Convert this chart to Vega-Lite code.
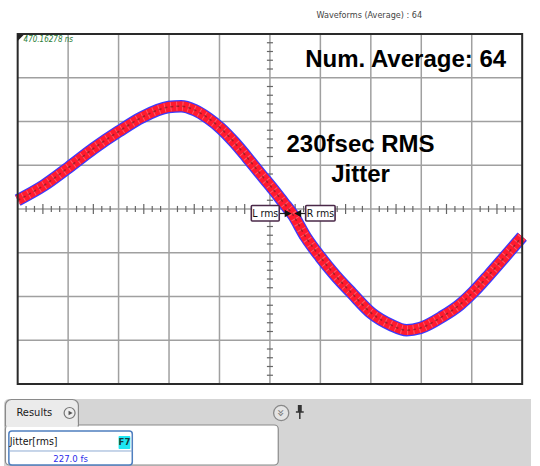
{
  "$schema": "https://vega.github.io/schema/vega-lite/v6.json",
  "width": 540,
  "height": 466,
  "padding": 0,
  "autosize": {"type": "fit", "contains": "padding"},
  "background": "white",
  "config": {"view": {"stroke": null}, "font": "Liberation Sans"},
  "datasets": {
    "wave": [
      {"t": 0.0, "v": 0.2}, {"t": 0.52, "v": 0.54}, {"t": 1.01, "v": 0.95}, {"t": 1.5, "v": 1.38},
      {"t": 2.0, "v": 1.77}, {"t": 2.47, "v": 2.1}, {"t": 2.99, "v": 2.33}, {"t": 3.24, "v": 2.35},
      {"t": 3.51, "v": 2.26}, {"t": 3.77, "v": 2.08}, {"t": 4.02, "v": 1.85}, {"t": 4.29, "v": 1.53},
      {"t": 4.54, "v": 1.19}, {"t": 4.8, "v": 0.82}, {"t": 5.03, "v": 0.5}, {"t": 5.26, "v": 0.16},
      {"t": 5.46, "v": -0.14}, {"t": 5.71, "v": -0.64}, {"t": 6.0, "v": -1.1}, {"t": 6.29, "v": -1.51},
      {"t": 6.62, "v": -1.92}, {"t": 7.01, "v": -2.38}, {"t": 7.4, "v": -2.65}, {"t": 7.71, "v": -2.77},
      {"t": 7.98, "v": -2.72}, {"t": 8.43, "v": -2.45}, {"t": 8.76, "v": -2.19}, {"t": 9.03, "v": -1.9},
      {"t": 9.34, "v": -1.51}, {"t": 9.65, "v": -1.1}, {"t": 10.0, "v": -0.63}
    ],
    "grid": [
      {"x1": 1, "x2": 1, "y1": -4, "y2": 4}, {"x1": 2, "x2": 2, "y1": -4, "y2": 4},
      {"x1": 3, "x2": 3, "y1": -4, "y2": 4}, {"x1": 4, "x2": 4, "y1": -4, "y2": 4},
      {"x1": 5, "x2": 5, "y1": -4, "y2": 4}, {"x1": 6, "x2": 6, "y1": -4, "y2": 4},
      {"x1": 7, "x2": 7, "y1": -4, "y2": 4}, {"x1": 8, "x2": 8, "y1": -4, "y2": 4},
      {"x1": 9, "x2": 9, "y1": -4, "y2": 4},
      {"x1": 0, "x2": 10, "y1": -3, "y2": -3}, {"x1": 0, "x2": 10, "y1": -2, "y2": -2},
      {"x1": 0, "x2": 10, "y1": -1, "y2": -1}, {"x1": 0, "x2": 10, "y1": 0, "y2": 0},
      {"x1": 0, "x2": 10, "y1": 1, "y2": 1}, {"x1": 0, "x2": 10, "y1": 2, "y2": 2},
      {"x1": 0, "x2": 10, "y1": 3, "y2": 3}
    ],
    "hticks": [
      {"t": 0.167}, {"t": 0.333}, {"t": 0.667}, {"t": 0.833}, {"t": 1.167}, {"t": 1.333}, {"t": 1.667}, {"t": 1.833},
      {"t": 2.167}, {"t": 2.333}, {"t": 2.667}, {"t": 2.833}, {"t": 3.167}, {"t": 3.333}, {"t": 3.667}, {"t": 3.833},
      {"t": 4.167}, {"t": 4.333}, {"t": 4.667}, {"t": 4.833}, {"t": 5.167}, {"t": 5.333}, {"t": 5.667}, {"t": 5.833},
      {"t": 6.167}, {"t": 6.333}, {"t": 6.667}, {"t": 6.833}, {"t": 7.167}, {"t": 7.333}, {"t": 7.667}, {"t": 7.833},
      {"t": 8.167}, {"t": 8.333}, {"t": 8.667}, {"t": 8.833}, {"t": 9.167}, {"t": 9.333}, {"t": 9.667}, {"t": 9.833}
    ],
    "hmid": [
      {"t": 0.5}, {"t": 1.5}, {"t": 2.5}, {"t": 3.5}, {"t": 4.5}, {"t": 5.5}, {"t": 6.5}, {"t": 7.5}, {"t": 8.5}, {"t": 9.5}
    ],
    "vticks": [
      {"v": -3.8}, {"v": -3.6}, {"v": -3.4}, {"v": -3.2}, {"v": -2.8}, {"v": -2.6}, {"v": -2.4}, {"v": -2.2},
      {"v": -1.8}, {"v": -1.6}, {"v": -1.4}, {"v": -1.2}, {"v": -0.8}, {"v": -0.6}, {"v": -0.4}, {"v": -0.2},
      {"v": 0.2}, {"v": 0.4}, {"v": 0.6}, {"v": 0.8}, {"v": 1.2}, {"v": 1.4}, {"v": 1.6}, {"v": 1.8},
      {"v": 2.2}, {"v": 2.4}, {"v": 2.6}, {"v": 2.8}, {"v": 3.2}, {"v": 3.4}, {"v": 3.6}, {"v": 3.8}
    ],
    "frame": [{"x1": 0, "x2": 10, "y1": -4, "y2": 4}],
    "bg": [{"x1": -0.2718, "x2": 10.1748, "y1": -4.3429, "y2": -5.8743}],
    "content": [{"x1": -0.2427, "x2": 5.165, "y1": -4.9371, "y2": -5.8514}],
    "tab": [{"x1": -0.2427, "x2": 1.2039, "y1": -4.3543, "y2": -4.96}],
    "strip": [{"x1": -0.2233, "x2": 1.1845, "y1": -4.88, "y2": -4.985}],
    "jbox": [{"x1": -0.1748, "x2": 2.2718, "y1": -5.0743, "y2": -5.8514}],
    "badge": [{"x1": 2.0, "x2": 2.233, "y1": -5.1886, "y2": -5.4857}],
    "pinhead": [{"x1": 5.5534, "x2": 5.6311, "y1": -4.48, "y2": -4.64}],
    "segs": [
      {"x1": -0.1748, "x2": 2.2718, "y1": -5.5314, "y2": -5.5314}
    ],
    "pinsegs": [
      {"x1": 5.5146, "x2": 5.6699, "y1": -4.64, "y2": -4.64},
      {"x1": 5.5922, "x2": 5.5922, "y1": -4.64, "y2": -4.8}
    ],
    "lr": [
      {"x1": 4.631, "x2": 5.1845, "y1": 0.08, "y2": -0.2743, "xc": 4.9068, "yc": -0.1029, "label": "L rms"},
      {"x1": 5.7087, "x2": 6.2913, "y1": 0.08, "y2": -0.2743, "xc": 6.0, "yc": -0.1029, "label": "R rms"}
    ],
    "conn": [
      {"x1": 5.1845, "x2": 5.32, "y1": -0.1029, "y2": -0.1029},
      {"x1": 5.59, "x2": 5.7087, "y1": -0.1029, "y2": -0.1029}
    ],
    "arrR": [{"x": 5.3592, "y": -0.1029}],
    "arrL": [{"x": 5.5534, "y": -0.1029}],
    "corner": [{"x": 0.0583, "y": 3.9086}],
    "timestamp": [{"x": 0.1165, "y": 3.8629, "text": "470.16278 ns"}],
    "header": [{"x": 6.9709, "y": 4.4343, "text": "Waveforms (Average) : 64"}],
    "big": [
      {"x": 7.69, "y": 3.4057, "text": "Num. Average: 64"},
      {"x": 6.796, "y": 1.4629, "text": "230fsec RMS"},
      {"x": 6.796, "y": 0.7771, "text": "Jitter"}
    ],
    "results": [{"x": 0.3301, "y": -4.6629, "text": "Results"}],
    "jlabel": [{"x": -0.1553, "y": -5.3257, "text": "Jitter[rms]"}],
    "jvalue": [{"x": 1.0485, "y": -5.7029, "text": "227.0 fs"}],
    "f7": [{"x": 2.1165, "y": -5.3371, "text": "F7"}],
    "circ1": [{"x": 1.0291, "y": -4.6629}],
    "play": [{"x": 1.0485, "y": -4.6629}],
    "circ2": [{"x": 5.2233, "y": -4.6629, "text": "»"}]
  },
  "layer": [
    {
      "data": {"name": "bg"},
      "mark": {"type": "rect", "fill": "#d5d5d5", "cornerRadiusTopLeft": 5},
      "encoding": {
        "x": {"field": "x1", "type": "quantitative", "scale": {"domain": [-0.3107, 10.1748], "nice": false, "zero": false}, "axis": null},
        "x2": {"field": "x2"},
        "y": {"field": "y1", "type": "quantitative", "scale": {"domain": [-5.8743, 4.7771], "nice": false, "zero": false}, "axis": null},
        "y2": {"field": "y2"}
      }
    },
    {
      "data": {"name": "content"},
      "mark": {"type": "rect", "fill": "#ffffff", "stroke": "#8a8a8a", "strokeWidth": 1.2, "cornerRadius": 4},
      "encoding": {
        "x": {"field": "x1", "type": "quantitative", "scale": {"domain": [-0.3107, 10.1748], "nice": false, "zero": false}, "axis": null},
        "x2": {"field": "x2"},
        "y": {"field": "y1", "type": "quantitative", "scale": {"domain": [-5.8743, 4.7771], "nice": false, "zero": false}, "axis": null},
        "y2": {"field": "y2"}
      }
    },
    {
      "data": {"name": "tab"},
      "mark": {"type": "rect", "fill": "#ebebeb", "stroke": "#8a8a8a", "strokeWidth": 1.2, "cornerRadiusTopLeft": 6, "cornerRadiusTopRight": 6},
      "encoding": {
        "x": {"field": "x1", "type": "quantitative", "scale": {"domain": [-0.3107, 10.1748], "nice": false, "zero": false}, "axis": null},
        "x2": {"field": "x2"},
        "y": {"field": "y1", "type": "quantitative", "scale": {"domain": [-5.8743, 4.7771], "nice": false, "zero": false}, "axis": null},
        "y2": {"field": "y2"}
      }
    },
    {
      "data": {"name": "strip"},
      "mark": {"type": "rect", "fill": "#ebebeb"},
      "encoding": {
        "x": {"field": "x1", "type": "quantitative", "scale": {"domain": [-0.3107, 10.1748], "nice": false, "zero": false}, "axis": null},
        "x2": {"field": "x2"},
        "y": {"field": "y1", "type": "quantitative", "scale": {"domain": [-5.8743, 4.7771], "nice": false, "zero": false}, "axis": null},
        "y2": {"field": "y2"}
      }
    },
    {
      "data": {"name": "jbox"},
      "mark": {"type": "rect", "fill": "#ffffff", "stroke": "#4f7fbf", "strokeWidth": 1.5, "cornerRadius": 3},
      "encoding": {
        "x": {"field": "x1", "type": "quantitative", "scale": {"domain": [-0.3107, 10.1748], "nice": false, "zero": false}, "axis": null},
        "x2": {"field": "x2"},
        "y": {"field": "y1", "type": "quantitative", "scale": {"domain": [-5.8743, 4.7771], "nice": false, "zero": false}, "axis": null},
        "y2": {"field": "y2"}
      }
    },
    {
      "data": {"name": "segs"},
      "mark": {"type": "rule", "stroke": "#8fabd3", "strokeWidth": 1},
      "encoding": {
        "x": {"field": "x1", "type": "quantitative", "scale": {"domain": [-0.3107, 10.1748], "nice": false, "zero": false}, "axis": null},
        "x2": {"field": "x2"},
        "y": {"field": "y1", "type": "quantitative", "scale": {"domain": [-5.8743, 4.7771], "nice": false, "zero": false}, "axis": null},
        "y2": {"field": "y2"}
      }
    },
    {
      "data": {"name": "badge"},
      "mark": {"type": "rect", "fill": "#1fe6f2", "cornerRadius": 1},
      "encoding": {
        "x": {"field": "x1", "type": "quantitative", "scale": {"domain": [-0.3107, 10.1748], "nice": false, "zero": false}, "axis": null},
        "x2": {"field": "x2"},
        "y": {"field": "y1", "type": "quantitative", "scale": {"domain": [-5.8743, 4.7771], "nice": false, "zero": false}, "axis": null},
        "y2": {"field": "y2"}
      }
    },
    {
      "data": {"name": "f7"},
      "mark": {"type": "text", "font": "Liberation Sans Narrow, DejaVu Sans Condensed, sans-serif", "fontSize": 9.5, "fontWeight": "bold", "color": "#173c3c", "align": "center", "baseline": "middle"},
      "encoding": {
        "x": {"field": "x", "type": "quantitative", "scale": {"domain": [-0.3107, 10.1748], "nice": false, "zero": false}, "axis": null},
        "y": {"field": "y", "type": "quantitative", "scale": {"domain": [-5.8743, 4.7771], "nice": false, "zero": false}, "axis": null},
        "text": {"field": "text"}
      }
    },
    {
      "data": {"name": "jlabel"},
      "mark": {"type": "text", "font": "Liberation Sans Narrow, DejaVu Sans Condensed, sans-serif", "fontSize": 10.5, "color": "#111111", "align": "left", "baseline": "middle"},
      "encoding": {
        "x": {"field": "x", "type": "quantitative", "scale": {"domain": [-0.3107, 10.1748], "nice": false, "zero": false}, "axis": null},
        "y": {"field": "y", "type": "quantitative", "scale": {"domain": [-5.8743, 4.7771], "nice": false, "zero": false}, "axis": null},
        "text": {"field": "text"}
      }
    },
    {
      "data": {"name": "jvalue"},
      "mark": {"type": "text", "font": "Liberation Sans Narrow, DejaVu Sans Condensed, sans-serif", "fontSize": 9.5, "color": "#2b2bea", "align": "center", "baseline": "middle"},
      "encoding": {
        "x": {"field": "x", "type": "quantitative", "scale": {"domain": [-0.3107, 10.1748], "nice": false, "zero": false}, "axis": null},
        "y": {"field": "y", "type": "quantitative", "scale": {"domain": [-5.8743, 4.7771], "nice": false, "zero": false}, "axis": null},
        "text": {"field": "text"}
      }
    },
    {
      "data": {"name": "results"},
      "mark": {"type": "text", "font": "Liberation Sans Narrow, DejaVu Sans Condensed, sans-serif", "fontSize": 11, "color": "#1a1a1a", "align": "center", "baseline": "middle"},
      "encoding": {
        "x": {"field": "x", "type": "quantitative", "scale": {"domain": [-0.3107, 10.1748], "nice": false, "zero": false}, "axis": null},
        "y": {"field": "y", "type": "quantitative", "scale": {"domain": [-5.8743, 4.7771], "nice": false, "zero": false}, "axis": null},
        "text": {"field": "text"}
      }
    },
    {
      "data": {"name": "circ1"},
      "mark": {"type": "point", "shape": "circle", "size": 120, "filled": true, "fill": "#eeeeee", "stroke": "#777777", "strokeWidth": 1.2, "opacity": 1},
      "encoding": {
        "x": {"field": "x", "type": "quantitative", "scale": {"domain": [-0.3107, 10.1748], "nice": false, "zero": false}, "axis": null},
        "y": {"field": "y", "type": "quantitative", "scale": {"domain": [-5.8743, 4.7771], "nice": false, "zero": false}, "axis": null}
      }
    },
    {
      "data": {"name": "play"},
      "mark": {"type": "point", "shape": "triangle-right", "size": 22, "filled": true, "color": "#555555", "opacity": 1},
      "encoding": {
        "x": {"field": "x", "type": "quantitative", "scale": {"domain": [-0.3107, 10.1748], "nice": false, "zero": false}, "axis": null},
        "y": {"field": "y", "type": "quantitative", "scale": {"domain": [-5.8743, 4.7771], "nice": false, "zero": false}, "axis": null}
      }
    },
    {
      "data": {"name": "circ2"},
      "mark": {"type": "point", "shape": "circle", "size": 230, "filled": true, "fill": "#e4e4e4", "stroke": "#888888", "strokeWidth": 1.3, "opacity": 1},
      "encoding": {
        "x": {"field": "x", "type": "quantitative", "scale": {"domain": [-0.3107, 10.1748], "nice": false, "zero": false}, "axis": null},
        "y": {"field": "y", "type": "quantitative", "scale": {"domain": [-5.8743, 4.7771], "nice": false, "zero": false}, "axis": null}
      }
    },
    {
      "data": {"name": "circ2"},
      "mark": {"type": "text", "fontSize": 13, "color": "#777777", "angle": 90, "align": "center", "baseline": "middle", "font": "DejaVu Sans"},
      "encoding": {
        "x": {"field": "x", "type": "quantitative", "scale": {"domain": [-0.3107, 10.1748], "nice": false, "zero": false}, "axis": null},
        "y": {"field": "y", "type": "quantitative", "scale": {"domain": [-5.8743, 4.7771], "nice": false, "zero": false}, "axis": null},
        "text": {"field": "text"}
      }
    },
    {
      "data": {"name": "pinhead"},
      "mark": {"type": "rect", "fill": "#333333"},
      "encoding": {
        "x": {"field": "x1", "type": "quantitative", "scale": {"domain": [-0.3107, 10.1748], "nice": false, "zero": false}, "axis": null},
        "x2": {"field": "x2"},
        "y": {"field": "y1", "type": "quantitative", "scale": {"domain": [-5.8743, 4.7771], "nice": false, "zero": false}, "axis": null},
        "y2": {"field": "y2"}
      }
    },
    {
      "data": {"name": "pinsegs"},
      "mark": {"type": "rule", "stroke": "#333333", "strokeWidth": 1.5},
      "encoding": {
        "x": {"field": "x1", "type": "quantitative", "scale": {"domain": [-0.3107, 10.1748], "nice": false, "zero": false}, "axis": null},
        "x2": {"field": "x2"},
        "y": {"field": "y1", "type": "quantitative", "scale": {"domain": [-5.8743, 4.7771], "nice": false, "zero": false}, "axis": null},
        "y2": {"field": "y2"}
      }
    },
    {
      "data": {"name": "grid"},
      "mark": {"type": "rule", "stroke": "#a0a0a0", "strokeWidth": 1.5},
      "encoding": {
        "x": {"field": "x1", "type": "quantitative", "scale": {"domain": [-0.3107, 10.1748], "nice": false, "zero": false}, "axis": null},
        "x2": {"field": "x2"},
        "y": {"field": "y1", "type": "quantitative", "scale": {"domain": [-5.8743, 4.7771], "nice": false, "zero": false}, "axis": null},
        "y2": {"field": "y2"}
      }
    },
    {
      "data": {"name": "hticks"},
      "mark": {"type": "rule", "stroke": "#666666", "strokeWidth": 1.2},
      "encoding": {
        "x": {"field": "t", "type": "quantitative", "scale": {"domain": [-0.3107, 10.1748], "nice": false, "zero": false}, "axis": null},
        "y": {"datum": -0.07, "type": "quantitative", "scale": {"domain": [-5.8743, 4.7771], "nice": false, "zero": false}, "axis": null},
        "y2": {"datum": 0.07}
      }
    },
    {
      "data": {"name": "hmid"},
      "mark": {"type": "rule", "stroke": "#666666", "strokeWidth": 1.2},
      "encoding": {
        "x": {"field": "t", "type": "quantitative", "scale": {"domain": [-0.3107, 10.1748], "nice": false, "zero": false}, "axis": null},
        "y": {"datum": -0.115, "type": "quantitative", "scale": {"domain": [-5.8743, 4.7771], "nice": false, "zero": false}, "axis": null},
        "y2": {"datum": 0.115}
      }
    },
    {
      "data": {"name": "vticks"},
      "mark": {"type": "rule", "stroke": "#666666", "strokeWidth": 1.2},
      "encoding": {
        "y": {"field": "v", "type": "quantitative", "scale": {"domain": [-5.8743, 4.7771], "nice": false, "zero": false}, "axis": null},
        "x": {"datum": 4.94, "type": "quantitative", "scale": {"domain": [-0.3107, 10.1748], "nice": false, "zero": false}, "axis": null},
        "x2": {"datum": 5.06}
      }
    },
    {
      "data": {"name": "wave"},
      "mark": {"type": "line", "interpolate": "monotone", "stroke": "#3a3aff", "strokeWidth": 12.5, "strokeCap": "butt", "strokeJoin": "round"},
      "encoding": {
        "x": {"field": "t", "type": "quantitative", "scale": {"domain": [-0.3107, 10.1748], "nice": false, "zero": false}, "axis": null},
        "y": {"field": "v", "type": "quantitative", "scale": {"domain": [-5.8743, 4.7771], "nice": false, "zero": false}, "axis": null}
      }
    },
    {
      "data": {"name": "wave"},
      "mark": {"type": "line", "interpolate": "monotone", "stroke": "#ff1a2e", "strokeWidth": 10, "strokeCap": "butt", "strokeJoin": "round"},
      "encoding": {
        "x": {"field": "t", "type": "quantitative", "scale": {"domain": [-0.3107, 10.1748], "nice": false, "zero": false}, "axis": null},
        "y": {"field": "v", "type": "quantitative", "scale": {"domain": [-5.8743, 4.7771], "nice": false, "zero": false}, "axis": null}
      }
    },
    {
      "data": {"name": "wave"},
      "mark": {"type": "line", "interpolate": "monotone", "stroke": "#ffffff", "strokeWidth": 9, "strokeDash": [1, 5], "strokeCap": "butt", "opacity": 0.28},
      "encoding": {
        "x": {"field": "t", "type": "quantitative", "scale": {"domain": [-0.3107, 10.1748], "nice": false, "zero": false}, "axis": null},
        "y": {"field": "v", "type": "quantitative", "scale": {"domain": [-5.8743, 4.7771], "nice": false, "zero": false}, "axis": null}
      }
    },
    {
      "data": {"name": "wave"},
      "mark": {"type": "line", "interpolate": "monotone", "stroke": "#3a1a1a", "strokeWidth": 1.5, "strokeDash": [3, 3], "opacity": 0.45},
      "encoding": {
        "x": {"field": "t", "type": "quantitative", "scale": {"domain": [-0.3107, 10.1748], "nice": false, "zero": false}, "axis": null},
        "y": {"field": "v", "type": "quantitative", "scale": {"domain": [-5.8743, 4.7771], "nice": false, "zero": false}, "axis": null}
      }
    },
    {
      "data": {"name": "frame"},
      "mark": {"type": "rect", "filled": false, "stroke": "#2a2a2a", "strokeWidth": 2},
      "encoding": {
        "x": {"field": "x1", "type": "quantitative", "scale": {"domain": [-0.3107, 10.1748], "nice": false, "zero": false}, "axis": null},
        "x2": {"field": "x2"},
        "y": {"field": "y1", "type": "quantitative", "scale": {"domain": [-5.8743, 4.7771], "nice": false, "zero": false}, "axis": null},
        "y2": {"field": "y2"}
      }
    },
    {
      "data": {"name": "conn"},
      "mark": {"type": "rule", "stroke": "#222222", "strokeWidth": 1.2},
      "encoding": {
        "x": {"field": "x1", "type": "quantitative", "scale": {"domain": [-0.3107, 10.1748], "nice": false, "zero": false}, "axis": null},
        "x2": {"field": "x2"},
        "y": {"field": "y1", "type": "quantitative", "scale": {"domain": [-5.8743, 4.7771], "nice": false, "zero": false}, "axis": null},
        "y2": {"field": "y2"}
      }
    },
    {
      "data": {"name": "lr"},
      "mark": {"type": "rect", "fill": "#ffffff", "stroke": "#4a2848", "strokeWidth": 1.6, "cornerRadius": 1},
      "encoding": {
        "x": {"field": "x1", "type": "quantitative", "scale": {"domain": [-0.3107, 10.1748], "nice": false, "zero": false}, "axis": null},
        "x2": {"field": "x2"},
        "y": {"field": "y1", "type": "quantitative", "scale": {"domain": [-5.8743, 4.7771], "nice": false, "zero": false}, "axis": null},
        "y2": {"field": "y2"}
      }
    },
    {
      "data": {"name": "lr"},
      "mark": {"type": "text", "font": "Liberation Sans Narrow, DejaVu Sans Condensed, sans-serif", "fontSize": 10.5, "color": "#111111", "align": "center", "baseline": "middle"},
      "encoding": {
        "x": {"field": "xc", "type": "quantitative", "scale": {"domain": [-0.3107, 10.1748], "nice": false, "zero": false}, "axis": null},
        "y": {"field": "yc", "type": "quantitative", "scale": {"domain": [-5.8743, 4.7771], "nice": false, "zero": false}, "axis": null},
        "text": {"field": "label"}
      }
    },
    {
      "data": {"name": "arrR"},
      "mark": {"type": "point", "shape": "triangle-right", "size": 60, "filled": true, "color": "#111111", "opacity": 1},
      "encoding": {
        "x": {"field": "x", "type": "quantitative", "scale": {"domain": [-0.3107, 10.1748], "nice": false, "zero": false}, "axis": null},
        "y": {"field": "y", "type": "quantitative", "scale": {"domain": [-5.8743, 4.7771], "nice": false, "zero": false}, "axis": null}
      }
    },
    {
      "data": {"name": "arrL"},
      "mark": {"type": "point", "shape": "triangle-left", "size": 60, "filled": true, "color": "#111111", "opacity": 1},
      "encoding": {
        "x": {"field": "x", "type": "quantitative", "scale": {"domain": [-0.3107, 10.1748], "nice": false, "zero": false}, "axis": null},
        "y": {"field": "y", "type": "quantitative", "scale": {"domain": [-5.8743, 4.7771], "nice": false, "zero": false}, "axis": null}
      }
    },
    {
      "data": {"name": "corner"},
      "mark": {"type": "point", "shape": "M -1 -1 L 1 -1 L -1 1 Z", "size": 49, "filled": true, "color": "#222222", "opacity": 1},
      "encoding": {
        "x": {"field": "x", "type": "quantitative", "scale": {"domain": [-0.3107, 10.1748], "nice": false, "zero": false}, "axis": null},
        "y": {"field": "y", "type": "quantitative", "scale": {"domain": [-5.8743, 4.7771], "nice": false, "zero": false}, "axis": null}
      }
    },
    {
      "data": {"name": "timestamp"},
      "mark": {"type": "text", "font": "Liberation Sans Narrow, DejaVu Sans Condensed, sans-serif", "fontSize": 8, "fontStyle": "italic", "color": "#2a7d36", "align": "left", "baseline": "middle"},
      "encoding": {
        "x": {"field": "x", "type": "quantitative", "scale": {"domain": [-0.3107, 10.1748], "nice": false, "zero": false}, "axis": null},
        "y": {"field": "y", "type": "quantitative", "scale": {"domain": [-5.8743, 4.7771], "nice": false, "zero": false}, "axis": null},
        "text": {"field": "text"}
      }
    },
    {
      "data": {"name": "header"},
      "mark": {"type": "text", "font": "Liberation Sans Narrow, DejaVu Sans Condensed, sans-serif", "fontSize": 9, "color": "#444444", "align": "center", "baseline": "middle"},
      "encoding": {
        "x": {"field": "x", "type": "quantitative", "scale": {"domain": [-0.3107, 10.1748], "nice": false, "zero": false}, "axis": null},
        "y": {"field": "y", "type": "quantitative", "scale": {"domain": [-5.8743, 4.7771], "nice": false, "zero": false}, "axis": null},
        "text": {"field": "text"}
      }
    },
    {
      "data": {"name": "big"},
      "mark": {"type": "text", "font": "Liberation Sans", "fontSize": 24, "fontWeight": "bold", "color": "#000000", "align": "center", "baseline": "middle"},
      "encoding": {
        "x": {"field": "x", "type": "quantitative", "scale": {"domain": [-0.3107, 10.1748], "nice": false, "zero": false}, "axis": null},
        "y": {"field": "y", "type": "quantitative", "scale": {"domain": [-5.8743, 4.7771], "nice": false, "zero": false}, "axis": null},
        "text": {"field": "text"}
      }
    }
  ]
}
